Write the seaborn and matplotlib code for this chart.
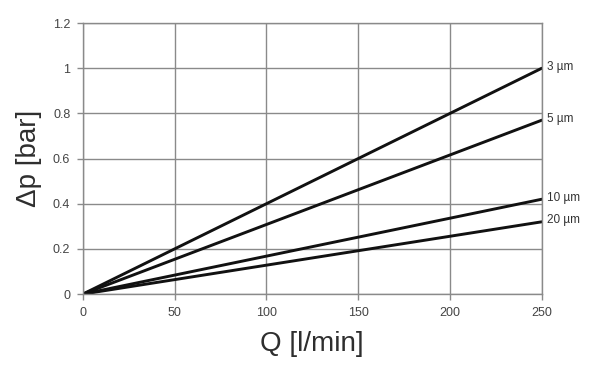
import pandas as pd
import matplotlib
matplotlib.use('Agg')
import matplotlib.pyplot as plt
import seaborn as sns

# Dados (retas pela origem)
vazao = [0, 250]
filtros = ['3 µm', '5 µm', '10 µm', '20 µm']
dp_3um = [0, 1.0]
dp_5um = [0, 0.77]
dp_10um = [0, 0.42]
dp_20um = [0, 0.32]

x_ticks = [0, 50, 100, 150, 200, 250]
y_ticks = [0, 0.2, 0.4, 0.6, 0.8, 1.0, 1.2]
y_tick_labels = ['0', '0.2', '0.4', '0.6', '0.8', '1', '1.2']

# Transformando em dataframe longo
series = [dp_3um, dp_5um, dp_10um, dp_20um]
linhas = []
for nome, valores in zip(filtros, series):
    for q, dp in zip(vazao, valores):
        linhas.append({'Q': q, 'dp': dp, 'filtro': nome})
df = pd.DataFrame(linhas)

sns.set_style('white')
plt.rcParams['font.family'] = ['Liberation Sans', 'DejaVu Sans']

fig = plt.figure(figsize=(6, 3.78), dpi=100)
ax = fig.add_axes([0.138, 0.222, 0.765, 0.717])

sns.lineplot(
    data=df, x='Q', y='dp', hue='filtro',
    palette=['#111111'] * 4, linewidth=2.1, legend=False, ax=ax
)

ax.set_xlim(0, 250)
ax.set_ylim(0, 1.2)
ax.set_xticks(x_ticks)
ax.set_yticks(y_ticks)
ax.set_yticklabels(y_tick_labels)
ax.grid(True, color='#8a8a8a', linewidth=1.0)
ax.set_axisbelow(True)
for s in ax.spines.values():
    s.set_color('#8a8a8a')
    s.set_linewidth(1.0)
ax.tick_params(axis='both', direction='out', length=4, width=1,
               bottom=True, left=True,
               color='#8a8a8a', labelsize=9, labelcolor='#444444', pad=5)

ax.set_xlabel('Q [l/min]', fontsize=20, color='#2e2e2e', labelpad=9)
ax.set_ylabel('Δp [bar]', fontsize=20, color='#2e2e2e', labelpad=8)

# Rotulos no fim de cada reta
for nome, valores in zip(filtros, series):
    ax.annotate(nome, xy=(vazao[-1], valores[-1]), xytext=(4, 1),
                textcoords='offset points', va='center', ha='left',
                fontsize=8.5, color='#333333', annotation_clip=False)

plt.savefig('out.png', dpi=100)
